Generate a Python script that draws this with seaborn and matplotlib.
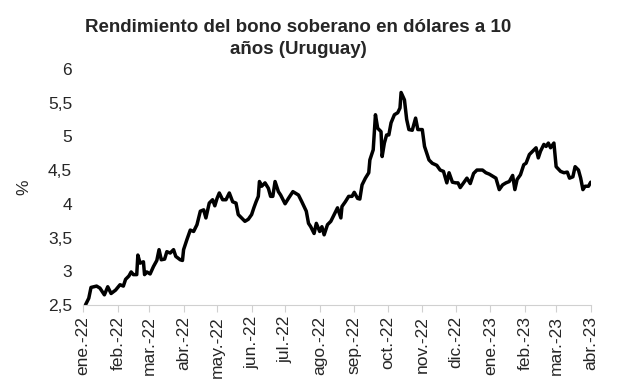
import matplotlib
matplotlib.use("Agg")
import matplotlib.pyplot as plt
import matplotlib.dates as mdates
import seaborn as sns
import pandas as pd

# rendimiento bono uruguayo 10 años en USD
fechas = [
    "2022-01-03", "2022-01-06", "2022-01-08", "2022-01-13", "2022-01-16", "2022-01-20",
    "2022-01-23", "2022-01-26", "2022-01-30", "2022-02-03", "2022-02-06", "2022-02-08",
    "2022-02-11", "2022-02-13", "2022-02-15", "2022-02-18", "2022-02-19", "2022-02-21",
    "2022-02-24", "2022-02-25", "2022-02-27", "2022-03-02", "2022-03-05", "2022-03-08",
    "2022-03-10", "2022-03-12", "2022-03-15", "2022-03-17", "2022-03-20", "2022-03-23",
    "2022-03-25", "2022-03-29", "2022-03-31", "2022-04-01", "2022-04-04", "2022-04-07",
    "2022-04-10", "2022-04-13", "2022-04-16", "2022-04-19", "2022-04-21", "2022-04-24",
    "2022-04-27", "2022-04-29", "2022-05-01", "2022-05-03", "2022-05-06", "2022-05-09",
    "2022-05-12", "2022-05-15", "2022-05-18", "2022-05-20", "2022-05-23", "2022-05-26",
    "2022-05-29", "2022-06-01", "2022-06-03", "2022-06-05", "2022-06-07", "2022-06-08",
    "2022-06-10", "2022-06-13", "2022-06-16", "2022-06-18", "2022-06-20", "2022-06-22",
    "2022-06-25", "2022-06-27", "2022-07-01", "2022-07-04", "2022-07-08", "2022-07-13",
    "2022-07-16", "2022-07-20", "2022-07-22", "2022-07-24", "2022-07-27", "2022-07-29",
    "2022-08-01", "2022-08-03", "2022-08-05", "2022-08-08", "2022-08-11", "2022-08-14",
    "2022-08-17", "2022-08-20", "2022-08-21", "2022-08-24", "2022-08-27", "2022-08-30",
    "2022-09-01", "2022-09-04", "2022-09-06", "2022-09-08", "2022-09-11", "2022-09-14",
    "2022-09-15", "2022-09-18", "2022-09-20", "2022-09-22", "2022-09-25", "2022-09-26",
    "2022-09-28", "2022-09-30", "2022-10-02", "2022-10-04", "2022-10-07", "2022-10-10",
    "2022-10-12", "2022-10-13", "2022-10-16", "2022-10-18", "2022-10-20", "2022-10-23",
    "2022-10-26", "2022-10-28", "2022-11-01", "2022-11-03", "2022-11-07", "2022-11-10",
    "2022-11-14", "2022-11-17", "2022-11-20", "2022-11-23", "2022-11-25", "2022-11-28",
    "2022-12-01", "2022-12-03", "2022-12-05", "2022-12-08", "2022-12-11", "2022-12-14",
    "2022-12-17", "2022-12-20", "2022-12-25", "2022-12-28", "2022-12-31", "2023-01-03",
    "2023-01-06", "2023-01-09", "2023-01-12", "2023-01-15", "2023-01-18", "2023-01-21",
    "2023-01-23", "2023-01-25", "2023-01-28", "2023-01-31", "2023-02-02", "2023-02-05",
    "2023-02-08", "2023-02-11", "2023-02-13", "2023-02-15", "2023-02-18", "2023-02-20",
    "2023-02-22", "2023-02-24", "2023-02-27", "2023-03-01", "2023-03-05", "2023-03-08",
    "2023-03-11", "2023-03-13", "2023-03-16", "2023-03-18", "2023-03-21", "2023-03-23",
    "2023-03-25", "2023-03-27", "2023-03-30", "2023-04-01",
]
rendimiento = [
    2.50, 2.60, 2.76, 2.78, 2.75, 2.65,
    2.77, 2.67, 2.72, 2.80, 2.78, 2.88,
    2.93, 2.99, 2.95, 2.95, 3.24, 3.12,
    3.14, 2.95, 2.99, 2.96, 3.07, 3.16,
    3.32, 3.17, 3.18, 3.29, 3.27, 3.32,
    3.22, 3.17, 3.16, 3.32, 3.47, 3.61,
    3.59, 3.69, 3.89, 3.91, 3.79, 4.01,
    4.06, 3.97, 4.08, 4.16, 4.06, 4.06,
    4.16, 4.03, 4.01, 3.84, 3.79, 3.74,
    3.77, 3.84, 3.94, 4.03, 4.11, 4.33,
    4.26, 4.31, 4.23, 4.11, 4.11, 4.33,
    4.18, 4.13, 4.00, 4.08, 4.18, 4.13,
    4.03, 3.89, 3.71, 3.66, 3.56, 3.71,
    3.59, 3.66, 3.54, 3.69, 3.74, 3.84,
    3.94, 3.79, 3.96, 4.03, 4.11, 4.11,
    4.17, 4.08, 4.07, 4.28, 4.38, 4.46,
    4.65, 4.80, 5.32, 5.12, 5.07, 4.70,
    4.90, 5.02, 5.02, 5.20, 5.32, 5.35,
    5.42, 5.65, 5.54, 5.25, 5.10, 5.09,
    5.27, 5.10, 5.10, 4.85, 4.65, 4.60,
    4.57, 4.50, 4.48, 4.31, 4.46, 4.32,
    4.31, 4.31, 4.24, 4.31, 4.38, 4.30,
    4.45, 4.50, 4.50, 4.46, 4.44, 4.41,
    4.38, 4.21, 4.28, 4.31, 4.33, 4.42,
    4.21, 4.36, 4.43, 4.58, 4.60, 4.73,
    4.78, 4.83, 4.68, 4.78, 4.88, 4.85,
    4.90, 4.83, 4.90, 4.55, 4.48, 4.46,
    4.47, 4.38, 4.40, 4.55, 4.50, 4.38,
    4.21, 4.26, 4.26, 4.32,
]

meses = ["ene.", "feb.", "mar.", "abr.", "may.", "jun.", "jul.", "ago.",
         "sep.", "oct.", "nov.", "dic."]
y_ticks = [2.5, 3, 3.5, 4, 4.5, 5, 5.5, 6]
titulo = ["Rendimiento del bono soberano en dólares a 10", "años (Uruguay)"]

df = pd.DataFrame({"fecha": pd.to_datetime(fechas), "valor": rendimiento})

sns.set_style("white")
plt.rcParams["font.family"] = ["Liberation Sans", "DejaVu Sans"]

fig = plt.figure(figsize=(6.4, 3.89), dpi=100)
ax = fig.add_axes([0.130, 0.216, 0.793, 0.607])

sns.lineplot(data=df, x="fecha", y="valor", ax=ax, color="black", linewidth=2.5)

ax.set_xlim(pd.Timestamp("2022-01-01"), pd.Timestamp("2023-04-01"))
ax.set_ylim(2.5, 6)
ax.set_yticks(y_ticks)
ax.set_yticklabels([f"{v:g}".replace(".", ",") for v in y_ticks])

ax.xaxis.set_major_locator(mdates.MonthLocator())
ax.xaxis.set_major_formatter(
    plt.FuncFormatter(lambda x, pos: meses[mdates.num2date(x).month - 1]
                      + "-" + mdates.num2date(x).strftime("%y")))
plt.setp(ax.get_xticklabels(), rotation=90)

ax.tick_params(axis="x", which="major", length=5, width=0.8, color="#d0d0d0",
               labelsize=12.5, pad=3, bottom=True)
ax.tick_params(axis="y", length=0, labelsize=12.5, pad=8)

for s in ["top", "right", "left"]:
    ax.spines[s].set_visible(False)
ax.spines["bottom"].set_color("#d0d0d0")
ax.spines["bottom"].set_linewidth(0.8)

ax.set_xlabel("")
ax.set_ylabel("%", fontsize=12.5, labelpad=12)

fig.text(0.466, 0.917, titulo[0], ha="center", va="baseline",
         fontsize=13.5, fontweight="bold")
fig.text(0.466, 0.861, titulo[1], ha="center", va="baseline",
         fontsize=13.5, fontweight="bold")

fig.savefig("out.png", dpi=100, facecolor="white")
